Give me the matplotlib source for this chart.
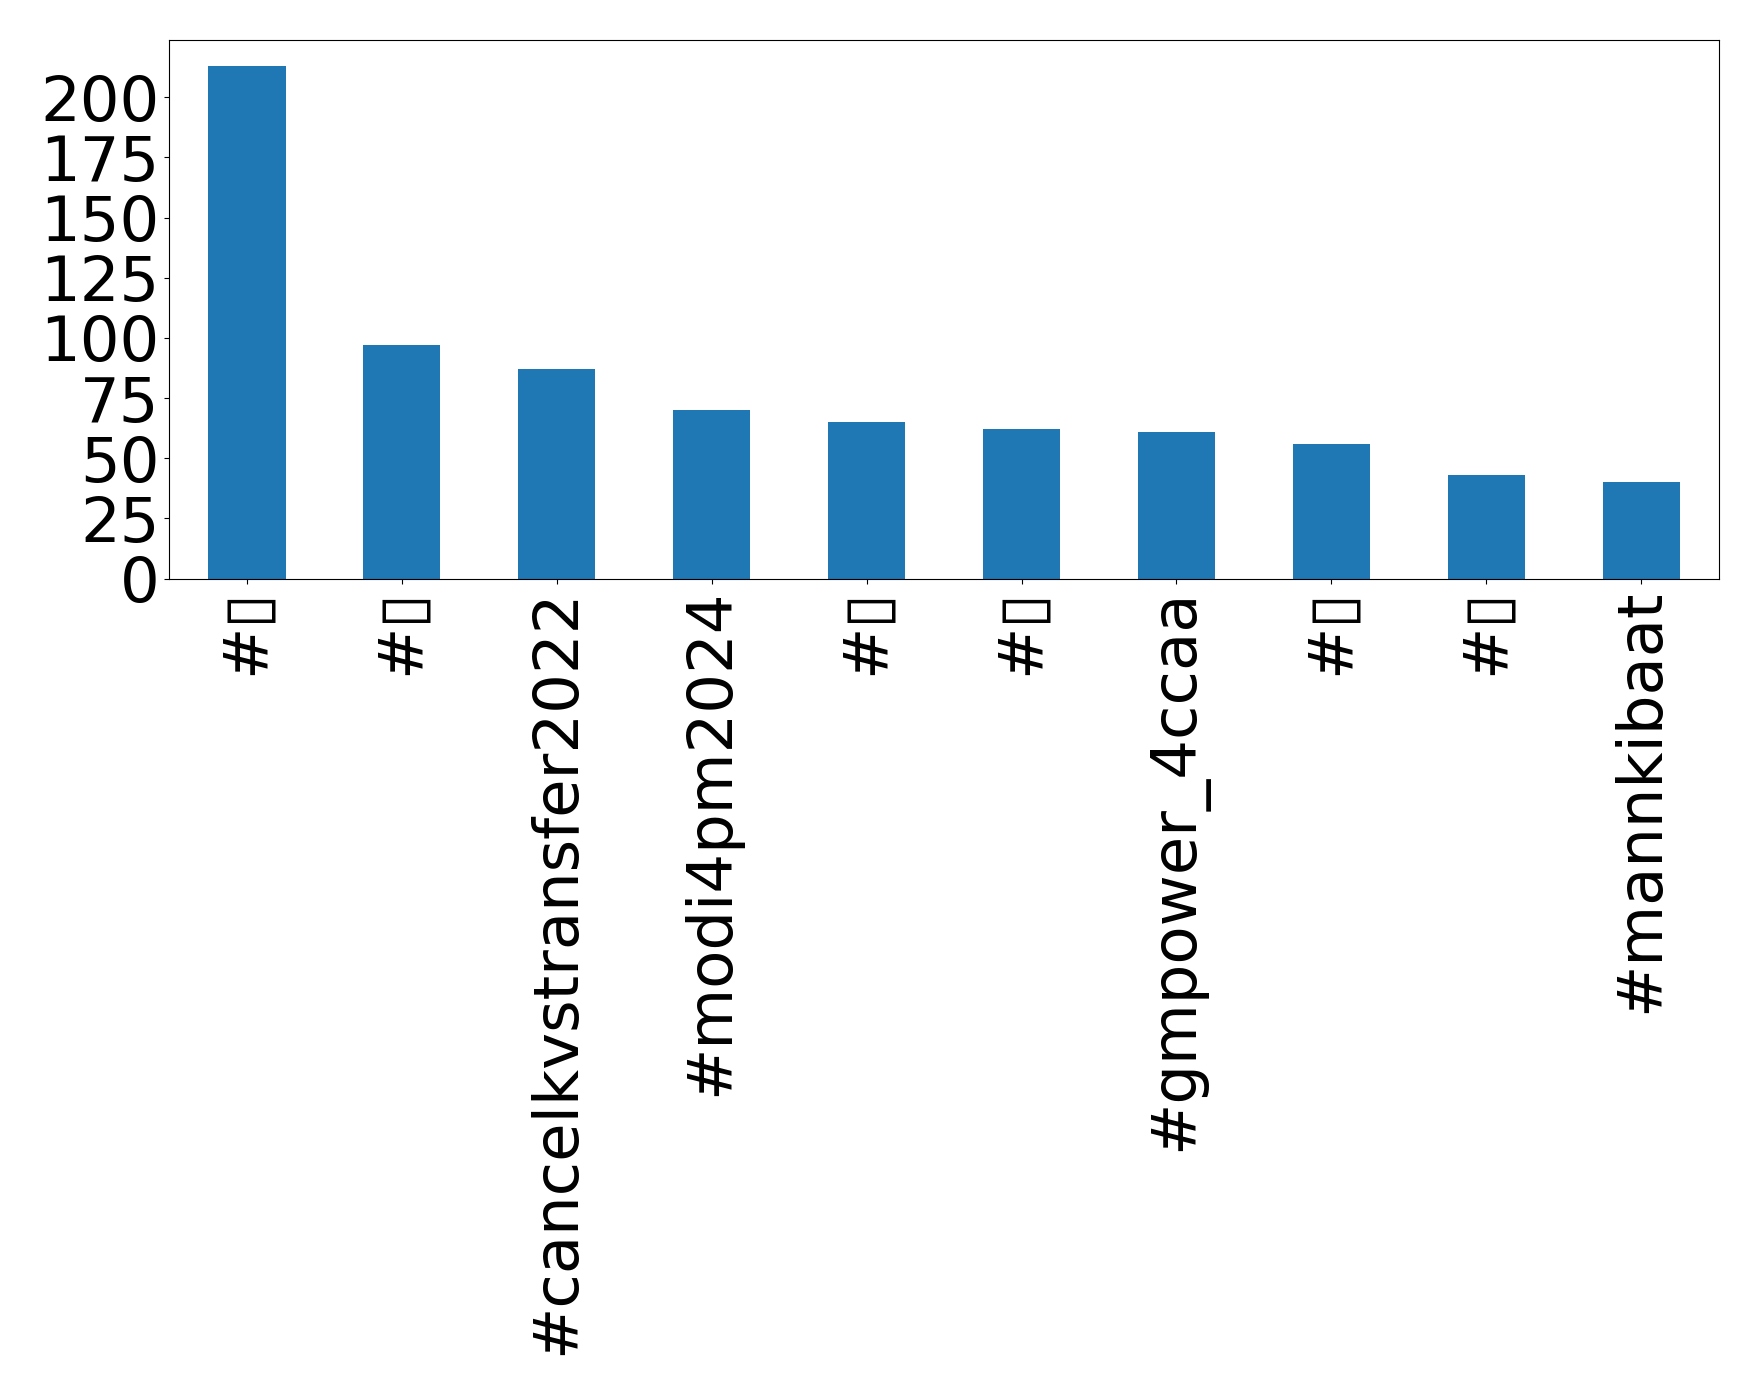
import matplotlib
matplotlib.use("Agg")
import matplotlib.pyplot as plt
import numpy as np

# hashtags; the non-latin ones show up as a missing-glyph box in the source
hashtags = [
    "#\u25af",
    "#\u25af",
    "#cancelkvstransfer2022",
    "#modi4pm2024",
    "#\u25af",
    "#\u25af",
    "#gmpower_4ccaa",
    "#\u25af",
    "#\u25af",
    "#mannkibaat",
]
counts = [213, 97, 87, 70, 65, 62, 61, 56, 43, 40]

fig = plt.figure(figsize=(17.58, 13.95), dpi=100)
ax = fig.add_axes([0.0963, 0.5853, 0.8814, 0.3857])

x = np.arange(len(hashtags))
ax.bar(x, counts, width=0.5, color="#1f77b4")
ax.set_xlim(-0.5, len(hashtags) - 0.5)
ax.set_xticks(x)
ax.set_xticklabels(hashtags, rotation=90, fontsize=45)
ax.set_yticks(np.arange(0, 201, 25))
ax.tick_params(axis="y", labelsize=45)

fig.savefig("out.png", dpi=100)
